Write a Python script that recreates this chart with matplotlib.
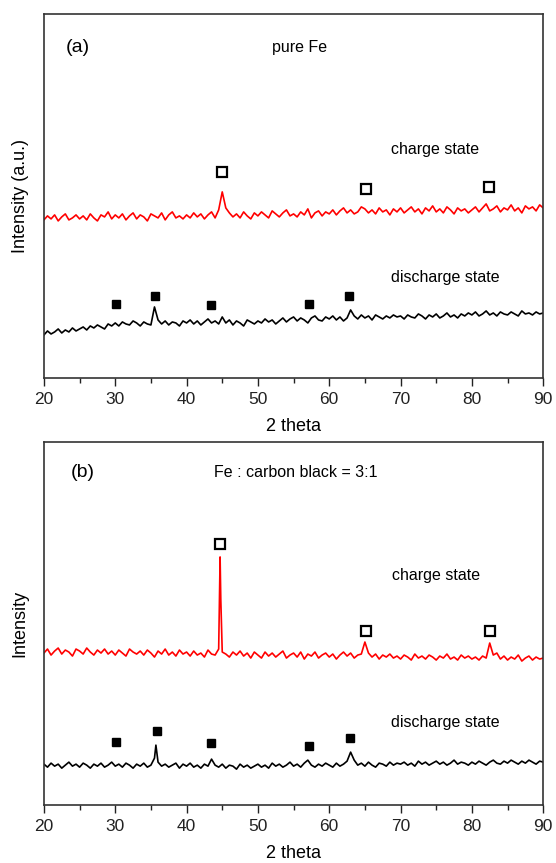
import numpy as np
import matplotlib.pyplot as plt
from matplotlib.ticker import MultipleLocator

plt.rcParams['font.family'] = ['Liberation Sans', 'DejaVu Sans']

# 2 theta grid, 0.5 degree steps from 20 to 90
two_theta = np.arange(20, 90.01, 0.5)

# (a) pure Fe - intensities (a.u.)
charge_a = [158,162,159,163,157,161,164,158,160,163, 159,162,158,164,160,157,163,161,166,159,
            163,160,164,158,162,165,159,163,161,157, 164,162,160,165,158,163,166,160,162,159,
            163,160,165,161,164,159,163,166,160,168, 186,170,165,161,164,160,166,162,159,165,
            162,166,163,160,167,164,161,165,168,162, 164,161,166,163,169,160,165,167,162,166,
            164,168,163,167,170,165,168,164,166,171, 169,165,168,164,170,166,168,163,169,166,
            170,165,168,171,166,169,164,170,167,172, 166,169,165,171,168,164,170,167,169,165,
            168,171,166,170,174,167,169,172,166,170, 168,173,167,170,165,172,169,171,167,173,
            170]
discharge_a = [43,47,44,46,49,45,48,46,50,47, 49,51,48,52,50,53,51,49,54,52,
               55,52,56,54,53,57,55,52,56,54, 53,71,58,54,57,53,56,55,52,57,
               55,58,54,57,53,56,59,55,57,54, 61,55,58,53,57,55,52,58,56,54,
               57,55,59,56,58,54,57,60,56,59, 61,57,60,58,55,60,62,58,57,61,
               59,62,58,61,57,60,68,62,59,63, 60,62,58,63,61,59,62,60,63,61,
               62,59,63,61,60,64,62,59,63,61, 64,60,62,65,61,63,60,64,62,65,
               63,66,62,64,67,63,65,62,66,64, 63,66,64,62,67,64,65,63,66,64,
               65]

# (b) Fe : carbon black = 3:1
charge_b = [152,156,150,154,157,151,155,153,149,156, 154,151,157,153,150,155,152,156,151,154,
            150,155,152,149,156,153,151,154,150,155, 152,148,154,151,156,150,153,149,155,151,
            153,149,154,150,152,148,155,151,150,156, 153,151,148,153,150,154,149,152,147,153,
            150,147,153,149,152,148,151,154,147,150, 152,148,153,146,151,149,153,147,150,152,
            148,151,146,150,153,149,152,147,150,151, 163,152,148,151,146,150,148,151,147,149,
            146,150,148,145,151,147,149,146,150,148, 145,149,147,151,146,148,145,150,147,149,
            146,148,145,149,147,162,150,152,146,149, 145,148,146,150,144,147,149,145,148,146,
            147]
discharge_b = [41,38,42,39,41,37,40,43,39,41, 38,42,40,37,41,39,42,38,40,43,
               39,41,38,42,40,37,41,39,42,38, 40,47,43,39,41,38,40,42,37,41,
               39,42,38,40,37,41,39,46,40,38, 41,37,40,39,36,41,38,40,37,39,
               41,38,40,37,42,39,41,38,40,43, 39,41,38,42,45,40,38,41,39,42,
               40,38,42,39,41,44,53,45,40,42, 39,43,40,38,42,41,39,43,40,42,
               41,43,40,42,39,44,41,43,40,42, 44,41,43,40,42,45,41,43,42,40,
               43,41,44,42,40,43,45,42,41,44, 42,45,43,41,44,42,45,43,41,44,
               43]

# sharp peaks between grid points
charge_b_pk_x = [44.6, 44.7, 44.8]
charge_b_pk_y = [200, 248, 205]
discharge_b_pk_x = [35.7, 35.9]
discharge_b_pk_y = [60, 49]

# phase markers
open_a_x = [44.9, 65.2, 82.4]
open_a_y = [206, 189, 191]
filled_a_x = [30.1, 35.6, 43.4, 57.1, 62.8]
filled_a_y = [74, 82, 73, 74, 82]
open_b_x = [44.7, 65.1, 82.5]
open_b_y = [261, 174, 174]
filled_b_x = [30.1, 35.8, 43.4, 57.2, 62.9]
filled_b_y = [63, 74, 62, 59, 67]


def merge(x, y, px, py):
    xx = np.concatenate([x, px])
    yy = np.concatenate([y, py])
    o = np.argsort(xx)
    return xx[o], yy[o]


fig = plt.figure(figsize=(5.56, 8.63), dpi=100)
ax1 = fig.add_axes([0.079, 0.562, 0.898, 0.422])
ax2 = fig.add_axes([0.079, 0.067, 0.898, 0.421])

ax1.plot(two_theta, charge_a, color='#ff0000', lw=1.2)
ax1.plot(two_theta, discharge_a, color='black', lw=1.2)
ax1.plot(open_a_x, open_a_y, 's', ms=7, mfc='white', mec='black', mew=1.6, ls='none')
ax1.plot(filled_a_x, filled_a_y, 's', ms=6, mfc='black', mec='black', ls='none')
ax1.set_ylim(0, 364)
ax1.set_ylabel('Intensity (a.u.)', fontsize=13, labelpad=11)
ax1.text(23.0, 330, '(a)', fontsize=14, va='center')
ax1.text(55.9, 330, 'pure Fe', fontsize=11.5, va='center', ha='center')
ax1.text(68.6, 228, 'charge state', fontsize=11.5, va='center')
ax1.text(68.6, 100, 'discharge state', fontsize=11.5, va='center')

xb, yb = merge(two_theta, charge_b, charge_b_pk_x, charge_b_pk_y)
ax2.plot(xb, yb, color='#ff0000', lw=1.2)
xb, yb = merge(two_theta, discharge_b, discharge_b_pk_x, discharge_b_pk_y)
ax2.plot(xb, yb, color='black', lw=1.2)
ax2.plot(open_b_x, open_b_y, 's', ms=7, mfc='white', mec='black', mew=1.6, ls='none')
ax2.plot(filled_b_x, filled_b_y, 's', ms=6, mfc='black', mec='black', ls='none')
ax2.set_ylim(0, 363)
ax2.set_ylabel('Intensity', fontsize=13, labelpad=11)
ax2.text(23.7, 332, '(b)', fontsize=14, va='center')
ax2.text(43.9, 332, 'Fe : carbon black = 3:1', fontsize=11.5, va='center')
ax2.text(68.8, 229, 'charge state', fontsize=11.5, va='center')
ax2.text(68.6, 83, 'discharge state', fontsize=11.5, va='center')

for ax in (ax1, ax2):
    ax.set_xlim(20, 90)
    ax.xaxis.set_major_locator(MultipleLocator(10))
    ax.xaxis.set_minor_locator(MultipleLocator(5))
    ax.tick_params(axis='x', which='major', direction='out', length=6, width=1, pad=4,
                   labelsize=12.5, colors='#222222')
    ax.tick_params(axis='x', which='minor', direction='out', length=3.5, width=1, colors='#222222')
    ax.set_yticks([])
    ax.set_xlabel('2 theta', fontsize=13, labelpad=8)
    for s in ax.spines.values():
        s.set_linewidth(1.2)
        s.set_color('#333333')

fig.savefig('out.png', dpi=100)
